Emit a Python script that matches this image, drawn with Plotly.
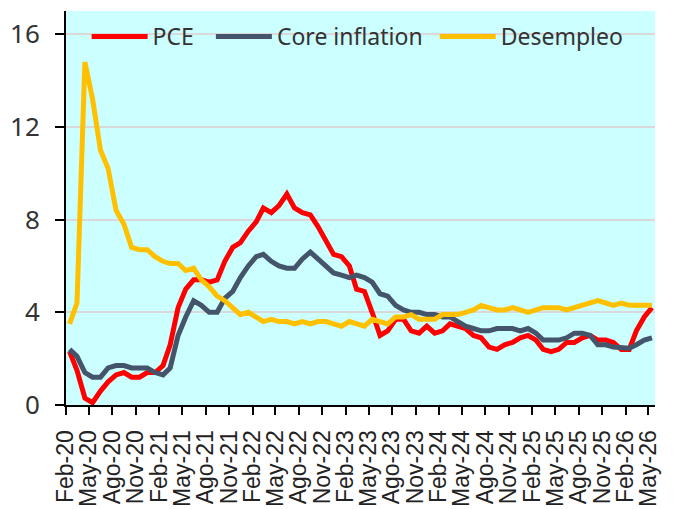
import pandas as pd
import plotly.graph_objects as go

# ---- data (monthly, Feb-20 .. May-26) ----
start_month = "2020-02-01"
n_months = 76

pce = [
    2.3, 1.5, 0.3, 0.1, 0.6, 1.0, 1.3, 1.4, 1.2, 1.2, 1.4,
    1.4, 1.7, 2.6, 4.2, 5.0, 5.4, 5.4, 5.3, 5.4, 6.2, 6.8, 7.0,
    7.5, 7.9, 8.5, 8.3, 8.6, 9.1, 8.5, 8.3, 8.2, 7.7, 7.1, 6.5,
    6.4, 6.0, 5.0, 4.9, 4.0, 3.0, 3.2, 3.7, 3.7, 3.2, 3.1, 3.4,
    3.1, 3.2, 3.5, 3.4, 3.3, 3.0, 2.9, 2.5, 2.4, 2.6, 2.7, 2.9,
    3.0, 2.8, 2.4, 2.3, 2.4, 2.7, 2.7, 2.9, 3.0, 2.8, 2.8, 2.7,
    2.4, 2.4, 3.2, 3.8, 4.2,
]

core_inflation = [
    2.4, 2.1, 1.4, 1.2, 1.2, 1.6, 1.7, 1.7, 1.6, 1.6, 1.6,
    1.4, 1.3, 1.6, 3.0, 3.8, 4.5, 4.3, 4.0, 4.0, 4.6, 4.9, 5.5,
    6.0, 6.4, 6.5, 6.2, 6.0, 5.9, 5.9, 6.3, 6.6, 6.3, 6.0, 5.7,
    5.6, 5.5, 5.6, 5.5, 5.3, 4.8, 4.7, 4.3, 4.1, 4.0, 4.0, 3.9,
    3.9, 3.8, 3.8, 3.6, 3.4, 3.3, 3.2, 3.2, 3.3, 3.3, 3.3, 3.2,
    3.3, 3.1, 2.8, 2.8, 2.8, 2.9, 3.1, 3.1, 3.0, 2.6, 2.6, 2.5,
    2.45, 2.45, 2.6, 2.8, 2.9,
]

desempleo = [
    3.5, 4.4, 14.8, 13.2, 11.0, 10.2, 8.4, 7.8, 6.8, 6.7, 6.7,
    6.4, 6.2, 6.1, 6.1, 5.8, 5.9, 5.4, 5.1, 4.7, 4.5, 4.2, 3.9,
    4.0, 3.8, 3.6, 3.7, 3.6, 3.6, 3.5, 3.6, 3.5, 3.6, 3.6, 3.5,
    3.4, 3.6, 3.5, 3.4, 3.7, 3.6, 3.5, 3.8, 3.8, 3.9, 3.7, 3.7,
    3.7, 3.9, 3.9, 3.9, 4.0, 4.1, 4.3, 4.2, 4.1, 4.1, 4.2, 4.1,
    4.0, 4.1, 4.2, 4.2, 4.2, 4.1, 4.2, 4.3, 4.4, 4.5, 4.4, 4.3,
    4.4, 4.3, 4.3, 4.3, 4.3,
]

tick_labels = [
    "Feb-20", "May-20", "Ago-20", "Nov-20",
    "Feb-21", "May-21", "Ago-21", "Nov-21",
    "Feb-22", "May-22", "Ago-22", "Nov-22",
    "Feb-23", "May-23", "Ago-23", "Nov-23",
    "Feb-24", "May-24", "Ago-24", "Nov-24",
    "Feb-25", "May-25", "Ago-25", "Nov-25",
    "Feb-26", "May-26",
]

y_ticks = [0, 4, 8, 12, 16]

# ---- build figure ----
month_starts = pd.date_range(start_month, periods=n_months, freq="MS")
points = month_starts + pd.Timedelta(days=14)  # values plotted mid-month
tick_dates = pd.date_range(start_month, periods=len(tick_labels), freq="3MS")

series = [
    ("PCE", pce, "#ff0000", "legend", 0.035),
    ("Core inflation", core_inflation, "#44546a", "legend2", 0.246),
    ("Desempleo", desempleo, "#ffc000", "legend3", 0.626),
]

fig = go.Figure()
legend_layout = {}
for name, vals, color, leg, lx in series:
    fig.add_trace(go.Scatter(
        x=points, y=vals, name=name, mode="lines",
        line=dict(color=color, width=5),
        legend=leg,
    ))
    legend_layout[leg] = dict(
        orientation="h", x=lx, y=0.99, xanchor="left", yanchor="top",
        bgcolor="rgba(0,0,0,0)",
        font=dict(family="Noto Sans", size=23, color="#333333"),
        itemwidth=56,
    )

# page body has an 8px default margin, so the figure is sized to fit the window
fig.update_layout(
    width=668, height=501,
    margin=dict(l=58, r=21, t=3, b=104),
    paper_bgcolor="white",
    plot_bgcolor="#ccffff",
    showlegend=True,
    **legend_layout,
)

fig.update_xaxes(
    range=["2020-02-01", "2026-05-27"],
    tickvals=tick_dates, ticktext=tick_labels,
    tickangle=-90,
    tickfont=dict(family="Liberation Sans", size=23, color="#222222"),
    ticks="outside", ticklen=8, tickwidth=2, tickcolor="black",
    ticklabelstandoff=6,
    showline=True, linecolor="black", linewidth=2,
    showgrid=False, zeroline=False, automargin=False,
)

fig.update_yaxes(
    range=[0, 17],
    tickvals=y_ticks,
    tickfont=dict(family="Noto Sans", size=26, color="#333333"),
    ticks="outside", ticklen=9, tickwidth=2, tickcolor="black",
    ticklabelstandoff=10,
    showline=True, linecolor="black", linewidth=2,
    showgrid=True, gridcolor="#d9d9d9", gridwidth=1.5,
    zeroline=False, automargin=False,
)

fig.write_html("out.html")
